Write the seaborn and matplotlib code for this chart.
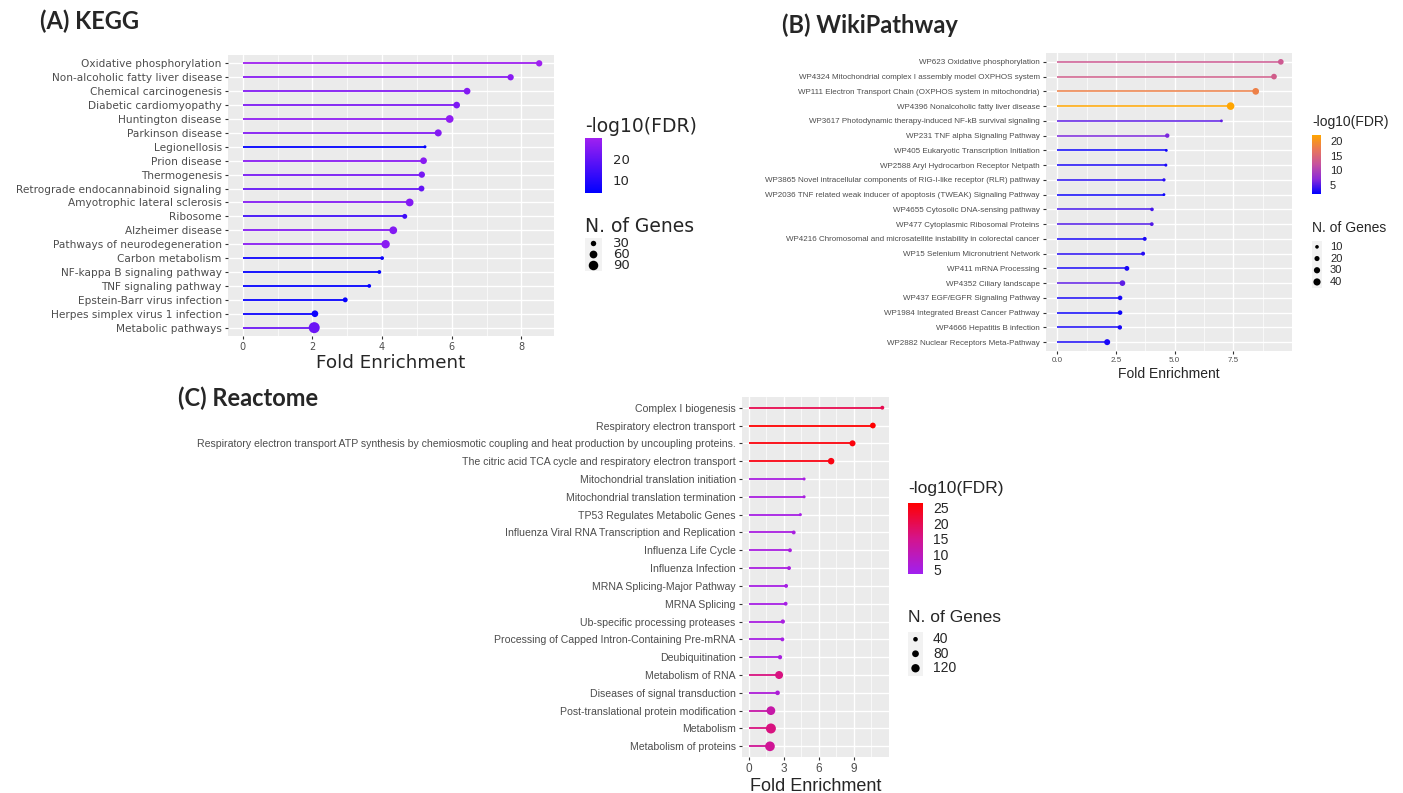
# ----- IMPORTS -----
import numpy as np
import pandas as pd
import matplotlib
matplotlib.use('Agg')
import matplotlib.pyplot as plt
import matplotlib.cm as cm
from matplotlib.colors import LinearSegmentedColormap, Normalize
import seaborn as sns

# ----- DATA -----
# (A) KEGG
kegg_terms = ['Oxidative phosphorylation', 'Non-alcoholic fatty liver disease', 'Chemical carcinogenesis',
              'Diabetic cardiomyopathy', 'Huntington disease', 'Parkinson disease', 'Legionellosis',
              'Prion disease', 'Thermogenesis', 'Retrograde endocannabinoid signaling',
              'Amyotrophic lateral sclerosis', 'Ribosome', 'Alzheimer disease',
              'Pathways of neurodegeneration', 'Carbon metabolism', 'NF-kappa B signaling pathway',
              'TNF signaling pathway', 'Epstein-Barr virus infection', 'Herpes simplex virus 1 infection',
              'Metabolic pathways']
kegg_fe = [8.51, 7.69, 6.44, 6.14, 5.94, 5.61, 5.23, 5.19, 5.14, 5.13,
           4.79, 4.65, 4.32, 4.10, 4.00, 3.92, 3.63, 2.94, 2.07, 2.05]
kegg_fdr = [29.5, 26, 25, 24, 27, 25, 4, 26, 23, 20,
            25, 14, 25, 26, 6, 4.5, 4.5, 5, 6, 21]
kegg_genes = [40, 40, 45, 45, 60, 50, 10, 45, 40, 35,
              60, 25, 60, 70, 15, 15, 15, 25, 45, 120]

# (B) WikiPathway
wiki_terms = ['WP623 Oxidative phosphorylation',
              'WP4324 Mitochondrial complex I assembly model OXPHOS system',
              'WP111 Electron Transport Chain (OXPHOS system in mitochondria)',
              'WP4396 Nonalcoholic fatty liver disease',
              'WP3617 Photodynamic therapy-induced NF-kB survival signaling',
              'WP231 TNF alpha Signaling Pathway',
              'WP405 Eukaryotic Transcription Initiation',
              'WP2588 Aryl Hydrocarbon Receptor Netpath',
              'WP3865 Novel intracellular components of RIG-I-like receptor (RLR) pathway',
              'WP2036 TNF related weak inducer of apoptosis (TWEAK) Signaling Pathway',
              'WP4655 Cytosolic DNA-sensing pathway',
              'WP477 Cytoplasmic Ribosomal Proteins',
              'WP4216 Chromosomal and microsatellite instability in colorectal cancer',
              'WP15 Selenium Micronutrient Network',
              'WP411 mRNA Processing',
              'WP4352 Ciliary landscape',
              'WP437 EGF/EGFR Signaling Pathway',
              'WP1984 Integrated Breast Cancer Pathway',
              'WP4666 Hepatitis B infection',
              'WP2882 Nuclear Receptors Meta-Pathway']
wiki_fe = [9.53, 9.24, 8.46, 7.39, 7.00, 4.69, 4.65, 4.63, 4.55, 4.55,
           4.04, 4.03, 3.73, 3.66, 2.97, 2.78, 2.68, 2.68, 2.67, 2.13]
wiki_fdr = [13, 13.5, 18, 21.9, 5.5, 6.5, 2.5, 3, 3.5, 2.5,
            4.5, 5, 3, 3.5, 3, 5.5, 3, 2.5, 3, 3]
wiki_genes = [25, 25, 35, 45, 6, 15, 6, 7, 8, 6,
              10, 11, 12, 12, 18, 25, 16, 16, 15, 28]

# (C) Reactome
react_terms = ['Complex I biogenesis', 'Respiratory electron transport',
               'Respiratory electron transport ATP synthesis by chemiosmotic coupling and heat production by uncoupling proteins.',
               'The citric acid TCA cycle and respiratory electron transport',
               'Mitochondrial translation initiation', 'Mitochondrial translation termination',
               'TP53 Regulates Metabolic Genes', 'Influenza Viral RNA Transcription and Replication',
               'Influenza Life Cycle', 'Influenza Infection', 'MRNA Splicing-Major Pathway',
               'MRNA Splicing', 'Ub-specific processing proteases',
               'Processing of Capped Intron-Containing Pre-mRNA', 'Deubiquitination',
               'Metabolism of RNA', 'Diseases of signal transduction',
               'Post-translational protein modification', 'Metabolism', 'Metabolism of proteins']
react_fe = [11.43, 10.62, 8.88, 7.05, 4.74, 4.74, 4.42, 3.85, 3.53, 3.45,
            3.20, 3.16, 2.92, 2.88, 2.68, 2.60, 2.47, 1.90, 1.90, 1.82]
react_fdr = [20, 26.5, 25.5, 25, 5.5, 5.5, 5, 5.5, 5.5, 5.5,
             5, 5, 5.5, 5, 5.5, 16, 6.5, 12, 16, 14]
react_genes = [30, 60, 65, 75, 20, 20, 20, 30, 30, 30,
               30, 30, 35, 30, 35, 110, 40, 130, 170, 160]

# ----- STYLE -----
sns.set_style('darkgrid', {'axes.facecolor': '#EBEBEB', 'grid.color': 'white'})
plt.rcParams['font.family'] = ['Liberation Sans', 'DejaVu Sans']
WIDE = ['DejaVu Sans']
SANS = ['Liberation Sans', 'DejaVu Sans']

W, H = 1403, 793
fig = plt.figure(figsize=(W / 100, H / 100), dpi=100)


def px_rect(l, t, r, b):
    return [l / W, 1 - b / H, (r - l) / W, (b - t) / H]


def size_of(v, gene_lim, sizes):
    v = np.asarray(v, dtype=float)
    return sizes[0] + (v - gene_lim[0]) / (gene_lim[1] - gene_lim[0]) * (sizes[1] - sizes[0])


def lollipop(rect, terms, fe, fdr, genes, cmap, fdr_lim, gene_lim, sizes, major, minor,
             lab_fs, tick_fs, xlab_fs, xlab_pad, family, lw):
    ax = fig.add_axes(px_rect(*rect))
    df = pd.DataFrame({'term': terms, 'fe': fe, 'fdr': fdr, 'genes': genes})
    df['pos'] = np.arange(len(df))
    norm = Normalize(*fdr_lim)
    ax.hlines(df['pos'], 0, df['fe'], colors=cmap(norm(df['fdr'])), lw=lw, zorder=2)
    sns.scatterplot(data=df, x='fe', y='pos', hue='fdr', size='genes', palette=cmap,
                    hue_norm=norm, sizes=sizes, size_norm=gene_lim, legend=False,
                    linewidth=0, ax=ax, zorder=3)
    xmax = df['fe'].max()
    ax.set_xlim(-0.05 * xmax, 1.05 * xmax)
    ax.set_ylim(len(df) - 0.4, -0.6)
    ax.set_xticks(major)
    ax.set_xticks(minor, minor=True)
    ax.set_xticklabels([str(m) for m in major], fontsize=tick_fs, color='#4D4D4D', family=family)
    ax.set_yticks(df['pos'])
    ax.set_yticklabels(df['term'], fontsize=lab_fs, color='#4D4D4D', family=family)
    ax.grid(which='major', color='white', lw=1.0)
    ax.grid(which='minor', axis='x', color='white', lw=0.5)
    ax.tick_params(which='major', length=2.5, width=0.8, color='#333333', pad=2,
                   left=True, bottom=True)
    ax.tick_params(which='minor', length=0)
    for s in ax.spines.values():
        s.set_visible(False)
    ax.set_ylabel('')
    ax.set_xlabel('Fold Enrichment', fontsize=xlab_fs, family=family, labelpad=xlab_pad)
    return ax


def color_legend(x, title_y, bar_top, bar_bot, bar_w, lab_x, cmap, lim, ticks,
                 title_fs, lab_fs, family):
    fig.text(x / W, 1 - title_y / H, '-log10(FDR)', fontsize=title_fs, va='center',
             ha='left', family=family)
    cax = fig.add_axes(px_rect(x, bar_top, x + bar_w, bar_bot))
    cb = fig.colorbar(cm.ScalarMappable(norm=Normalize(*lim), cmap=cmap), cax=cax)
    cb.outline.set_visible(False)
    cb.set_ticks(ticks)
    cax.tick_params(left=True, right=True, labelleft=False, labelright=True,
                    direction='in', color='white', length=bar_w * 0.72 * 0.2, width=0.6,
                    labelsize=lab_fs, pad=(lab_x - x - bar_w) * 0.72)
    for t in cax.get_yticklabels():
        t.set_family(family)


def size_legend(x, title_y, key_top, key_h, key_w, lab_x, values, gene_lim, sizes,
                title_fs, lab_fs, family):
    fig.text(x / W, 1 - title_y / H, 'N. of Genes', fontsize=title_fs, va='center',
             ha='left', family=family)
    n = len(values)
    kax = fig.add_axes(px_rect(x, key_top, x + key_w, key_top + n * key_h))
    kax.set_facecolor('#F2F2F2')
    kax.grid(False)
    kax.scatter([0.5] * n, np.arange(n) + 0.5, s=size_of(values, gene_lim, sizes),
                color='black', linewidth=0)
    kax.set_xlim(0, 1)
    kax.set_ylim(n, 0)
    kax.set_xticks([])
    kax.set_yticks([])
    for s in kax.spines.values():
        s.set_visible(False)
    for i, v in enumerate(values):
        fig.text(lab_x / W, 1 - (key_top + (i + 0.5) * key_h) / H, str(v), fontsize=lab_fs,
                 va='center', ha='left', family=family)


# ----- colour scales -----
cmap_kegg = LinearSegmentedColormap.from_list('kegg', ['#0000FF', '#A020F0'])
cmap_wiki = LinearSegmentedColormap.from_list('wiki', ['#0000FF', '#8B2BD8', '#C6529F', '#E8765A', '#FFA500'])
cmap_react = LinearSegmentedColormap.from_list('react', ['#A020F0', '#D4148C', '#FF0000'])

lim_kegg = (3.8, 29.7)
lim_wiki = (2.1, 21.9)
lim_react = (3.6, 26.5)

# ----- (A) KEGG -----
gl_kegg, sz_kegg = (10, 120), (4.7, 63)
lollipop((228, 55, 554, 336), kegg_terms, kegg_fe, kegg_fdr, kegg_genes, cmap_kegg, lim_kegg,
         gl_kegg, sz_kegg, [0, 2, 4, 6, 8], [1, 3, 5, 7], 7.6, 7, 13.2, 1, WIDE, 1.3)
color_legend(585, 127, 138, 193, 17, 613, cmap_kegg, lim_kegg, [10, 20], 13.5, 9.5, WIDE)
size_legend(585, 226, 238, 11, 17, 613, [30, 60, 90], gl_kegg, sz_kegg, 13.5, 9.5, WIDE)

# ----- (B) WikiPathway -----
gl_wiki, sz_wiki = (5, 45), (3.5, 30)
lollipop((1046, 53, 1292, 351), wiki_terms, wiki_fe, wiki_fdr, wiki_genes, cmap_wiki, lim_wiki,
         gl_wiki, sz_wiki, [0.0, 2.5, 5.0, 7.5], [1.25, 3.75, 6.25, 8.75], 5.8, 5.8, 10, 2,
         SANS, 1.1)
color_legend(1312, 122, 135, 194, 9, 1330, cmap_wiki, lim_wiki, [5, 10, 15, 20], 10, 8, SANS)
size_legend(1312, 228, 241, 11.7, 10, 1330, [10, 20, 30, 40], gl_wiki, sz_wiki, 10, 8, SANS)

# ----- (C) Reactome -----
gl_react, sz_react = (20, 170), (4.7, 52)
lollipop((742, 397, 889, 757), react_terms, react_fe, react_fdr, react_genes, cmap_react, lim_react,
         gl_react, sz_react, [0, 3, 6, 9], [1.5, 4.5, 7.5, 10.5], 7.55, 8.5, 13, 2, SANS, 1.3)
color_legend(908, 489, 503, 574, 15, 933, cmap_react, lim_react, [5, 10, 15, 20, 25], 12.5, 10, SANS)
size_legend(908, 617, 632, 14.5, 15, 933, [40, 80, 120], gl_react, sz_react, 12.5, 10, SANS)

# ----- panel titles -----
fig.text(40 / W, 1 - 21 / H, '(A) KEGG', fontsize=17, fontweight='bold', family=['Lato'], va='center')
fig.text(782 / W, 1 - 25 / H, '(B) WikiPathway', fontsize=17, fontweight='bold', family=['Lato'], va='center')
fig.text(178 / W, 1 - 398 / H, '(C) Reactome', fontsize=17, fontweight='bold', family=['Lato'], va='center')

fig.savefig('out.png', dpi=100)
